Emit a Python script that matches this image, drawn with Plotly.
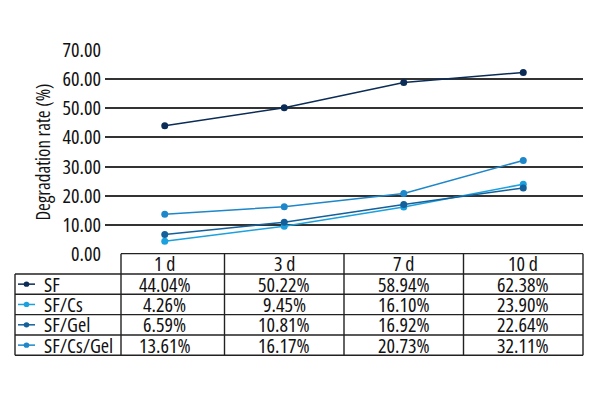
import plotly.graph_objects as go

# ---- data ----
categories = ["1 d", "3 d", "7 d", "10 d"]
series_names = ["SF", "SF/Cs", "SF/Gel", "SF/Cs/Gel"]
sf = [44.04, 50.22, 58.94, 62.38]
sf_cs = [4.26, 9.45, 16.10, 23.90]
sf_gel = [6.59, 10.81, 16.92, 22.64]
sf_cs_gel = [13.61, 16.17, 20.73, 32.11]
y_tick_values = [0, 10, 20, 30, 40, 50, 60, 70]
y_title = "Degradation rate (%)"

series_values = [sf, sf_cs, sf_gel, sf_cs_gel]
colors = ["#0b2c56", "#1ba1dd", "#14609a", "#1d87c9"]

FONT = "Open Sans, Roboto Condensed, sans-serif"
FS = 20
TXT = "#111111"
W, H = 600, 400


def cond(s):
    return f"<span style='font-stretch:condensed'>{s}</span>"


def fx(p):
    return p / W


def fy(p):
    return 1 - p / H


plot_left, plot_right, plot_top, plot_bottom = 105, 583, 39, 257
table_left, first_col_right = 15, 121
row_h = 21.8
n_rows = 1 + len(series_names)
table_bottom = plot_bottom + row_h * n_rows

fig = go.Figure()
x_idx = list(range(len(categories)))
for name, vals, col in zip(series_names, series_values, colors):
    fig.add_trace(go.Scatter(
        x=x_idx, y=vals, name=name, mode="lines+markers",
        line=dict(color=col, width=1.5),
        marker=dict(color=col, size=7),
        showlegend=False,
    ))

line_col = "#222222"
lw = 1.4
shapes = []


def hline(y, x0, x1):
    shapes.append(dict(type="line", xref="paper", yref="paper",
                       x0=fx(x0), x1=fx(x1), y0=fy(y), y1=fy(y),
                       line=dict(color=line_col, width=lw)))


def vline_paper(x, y0, y1):
    shapes.append(dict(type="line", xref="paper", yref="paper",
                       x0=fx(x), x1=fx(x), y0=fy(y0), y1=fy(y1),
                       line=dict(color=line_col, width=lw)))


# table grid
hline(plot_bottom, first_col_right, plot_right)
for k in range(1, n_rows + 1):
    hline(plot_bottom + row_h * k, table_left, plot_right)
vline_paper(table_left, plot_bottom + row_h, table_bottom)
vline_paper(first_col_right, plot_bottom, table_bottom)
vline_paper(plot_right, plot_bottom, table_bottom)
for i in range(len(categories) - 1):
    shapes.append(dict(type="line", xref="x", yref="paper",
                       x0=i + 0.5, x1=i + 0.5, y0=fy(plot_bottom), y1=fy(table_bottom),
                       line=dict(color=line_col, width=lw)))

annotations = []
hdr_y = plot_bottom + row_h * 0.5
for i, c in enumerate(categories):
    annotations.append(dict(x=i, y=fy(hdr_y), xref="x", yref="paper", text=cond(c),
                            showarrow=False, xanchor="center", yanchor="middle",
                            font=dict(family=FONT, size=FS, color=TXT)))

for r, (name, vals, col) in enumerate(zip(series_names, series_values, colors)):
    cy = plot_bottom + row_h * (r + 1.5)
    # legend key
    shapes.append(dict(type="line", xref="paper", yref="paper",
                       x0=fx(18), x1=fx(35), y0=fy(cy), y1=fy(cy),
                       line=dict(color=col, width=1.5)))
    shapes.append(dict(type="circle", xref="paper", yref="paper",
                       x0=fx(26.5 - 2.8), x1=fx(26.5 + 2.8), y0=fy(cy - 2.8), y1=fy(cy + 2.8),
                       fillcolor=col, line=dict(color=col, width=0)))
    annotations.append(dict(x=fx(42), y=fy(cy), xref="paper", yref="paper", text=cond(name),
                            showarrow=False, xanchor="left", yanchor="middle",
                            font=dict(family=FONT, size=FS, color=TXT)))
    for i, v in enumerate(vals):
        annotations.append(dict(x=i, y=fy(cy), xref="x", yref="paper", text=cond(f"{v:.2f}%"),
                                showarrow=False, xanchor="center", yanchor="middle",
                                font=dict(family=FONT, size=FS, color=TXT)))

fig.update_layout(
    width=W, height=H, autosize=False,
    margin=dict(l=0, r=0, t=0, b=0),
    paper_bgcolor="white", plot_bgcolor="white",
    font=dict(family=FONT, size=FS, color=TXT),
    xaxis=dict(domain=[fx(plot_left), fx(plot_right)], range=[-0.5, len(categories) - 0.5],
               showticklabels=False, showgrid=False, zeroline=False, showline=False,
               ticks=""),
    yaxis=dict(domain=[fy(plot_bottom), fy(plot_top)], range=[0, 70],
               tickvals=y_tick_values,
               ticktext=[cond(f"{v:.2f}") for v in y_tick_values],
               showgrid=True, gridcolor="#333333", gridwidth=1.5,
               zeroline=False, showline=False, ticks="",
               ticklabelstandoff=3,
               title=dict(text=cond(y_title), font=dict(family=FONT, size=19, color=TXT),
                          standoff=6),
               tickfont=dict(family=FONT, size=FS, color=TXT)),
    shapes=shapes,
    annotations=annotations,
)

fig.write_html("out.html", config={"displayModeBar": False},
               post_script="document.body.style.margin='0';")
